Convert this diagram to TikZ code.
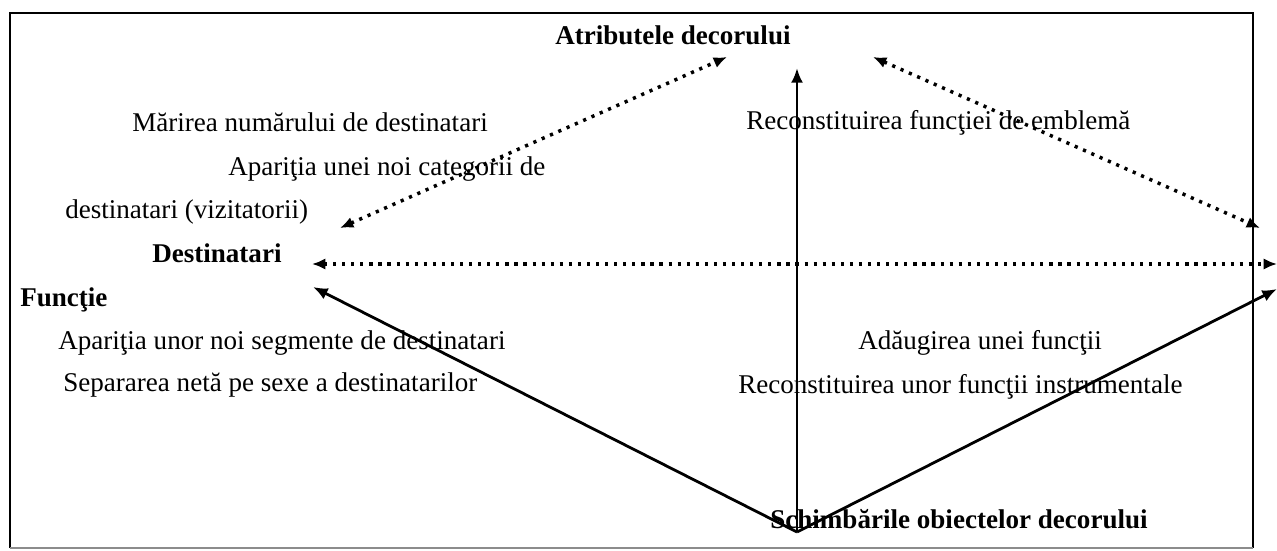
\documentclass[tikz,border=0pt]{standalone}
\usepackage{fontspec}
\setmainfont{Liberation Serif}
\usetikzlibrary{arrows.meta}
\begin{document}
\begin{tikzpicture}[x=0.75pt,y=-0.75pt,
  lbl/.style={anchor=base west,inner sep=0pt,font=\fontsize{20.3}{24}\selectfont},
  blbl/.style={anchor=base west,inner sep=0pt,font=\fontsize{20.3}{24}\selectfont\bfseries},
  dotarrow/.style={line width=2.6pt,dash pattern=on 2.4pt off 4.4pt,{Latex[length=10pt,width=8.5pt]}-{Latex[length=10pt,width=8.5pt]}},
  solarrow/.style={line width=2.1pt,-{Latex[length=11pt,width=9pt]}},
  frame/.style={line width=1.6pt}]
\useasboundingbox (0,0) rectangle (1277,550);
\fill[white] (0,0) rectangle (1277,550);
% frame
\draw[frame] (10,548) -- (10,13) -- (1253,13) -- (1253,548);
\draw[line width=0.8pt,black!45] (10,548) -- (1253,548);
% texts
\node[blbl] (atr) at (555,44) {Atributele decorului};
\node[lbl] (mar) at (132,131) {Mărirea numărului de destinatari};
\node[lbl] (apc) at (228,175) {Apariţia unei noi categorii de};
\node[lbl] (viz) at (65,218) {destinatari (vizitatorii)};
\node[blbl] (dest) at (152,262) {Destinatari};
\node[blbl] (fun) at (20,306) {Funcţie};
\node[lbl] (seg) at (58,349) {Apariţia unor noi segmente de destinatari};
\node[lbl] (sep) at (63,391) {Separarea netă pe sexe a destinatarilor};
\node[lbl] (emb) at (746,129) {Reconstituirea funcţiei de emblemă};
\node[lbl] (ada) at (858,349) {Adăugirea unei funcţii};
\node[lbl] (ins) at (738,393) {Reconstituirea unor funcţii instrumentale};
\node[blbl] (sch) at (770,528) {Schimbările obiectelor decorului};
% arrow end points
\coordinate (v) at (797,532);
\coordinate (vup) at (797,68);
\coordinate (atrL) at (727,57);
\coordinate (atrR) at (873,57);
\coordinate (destA) at (340,228);
\coordinate (destH) at (312,264);
\coordinate (destS) at (313,287);
\coordinate (rA) at (1260,228);
\coordinate (rH) at (1277,264);
\coordinate (rS) at (1277,289);
% connectors
\draw[dotarrow] (destA) -- (atrL);
\draw[dotarrow] (atrR) -- (rA);
\draw[dotarrow] (destH) -- (rH);
\draw[solarrow] (v) -- (vup);
\draw[solarrow] (v) -- (destS);
\draw[solarrow] (v) -- (rS);
\end{tikzpicture}
\end{document}
